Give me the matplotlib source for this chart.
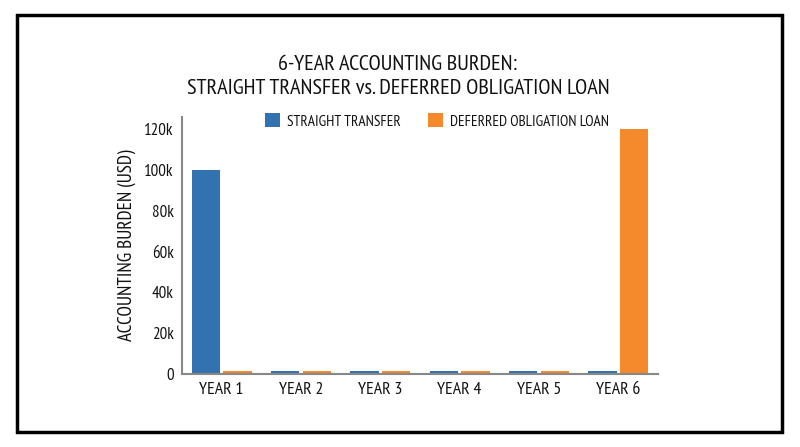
import matplotlib
matplotlib.use("Agg")
import matplotlib.pyplot as plt
from matplotlib.patches import Rectangle
import numpy as np

years = ["YEAR 1", "YEAR 2", "YEAR 3", "YEAR 4", "YEAR 5", "YEAR 6"]
straight_transfer = [100000, 1500, 1500, 1500, 1500, 1500]
deferred_loan = [1500, 1500, 1500, 1500, 1500, 120000]
y_ticks = [0, 20000, 40000, 60000, 80000, 100000, 120000]
y_tick_labels = ["0", "20k", "40k", "60k", "80k", "100k", "120k"]

FONT = ["PT Sans Narrow", "Fira Sans Condensed", "Asap Condensed",
        "Barlow Semi Condensed", "DejaVu Sans"]
plt.rcParams["font.family"] = FONT
plt.rcParams["font.weight"] = "normal"

W, H = 800, 447
fig = plt.figure(figsize=(W / 100, H / 100), dpi=100)
fig.patch.set_facecolor("white")

ax = fig.add_axes([182 / W, 1 - 374 / H, (658 - 182) / W, (374 - 117) / H])

x = np.arange(len(years))
bw = 0.36
blue = "#3272b0"
orange = "#f48a2b"
ax.bar(x - 0.2, straight_transfer, bw, color=blue, label="STRAIGHT TRANSFER")
ax.bar(x + 0.2, deferred_loan, bw, color=orange, label="DEFERRED OBLIGATION LOAN")

ax.set_xlim(-0.5, 5.5)
ax.set_ylim(0, 126000)
ax.set_xticks(x)
ax.set_xticklabels(years, fontsize=12.8, color="#111111")
ax.set_yticks(y_ticks)
ax.set_yticklabels(y_tick_labels, fontsize=12.2, color="#111111")
ax.tick_params(length=0, pad=6)
for s in ["top", "right"]:
    ax.spines[s].set_visible(False)
for s in ["left", "bottom"]:
    ax.spines[s].set_color("#888888")
    ax.spines[s].set_linewidth(1.5)

ax.set_ylabel("ACCOUNTING BURDEN (USD)", fontsize=13.8, color="#111111", labelpad=6)

fig.text(398 / W, 1 - 64 / H, "6-YEAR ACCOUNTING BURDEN:", ha="center", va="center",
         fontsize=16, color="#111111")
fig.text(398 / W, 1 - 88 / H, "STRAIGHT TRANSFER vs. DEFERRED OBLIGATION LOAN", ha="center",
         va="center", fontsize=16, color="#111111")

leg = fig.legend(loc="center", bbox_to_anchor=(437 / W, 1 - 121 / H), ncol=2, frameon=False,
                 fontsize=11, handlelength=1.0, handleheight=1.0, handletextpad=0.45,
                 columnspacing=1.8, labelcolor="#111111")

frame = Rectangle((17 / W, 1 - 432 / H), (782 - 17) / W, (432 - 15) / H,
                  transform=fig.transFigure, fill=False, edgecolor="black", linewidth=2.5)
fig.patches.append(frame)

fig.savefig("out.png", dpi=100, facecolor="white")
